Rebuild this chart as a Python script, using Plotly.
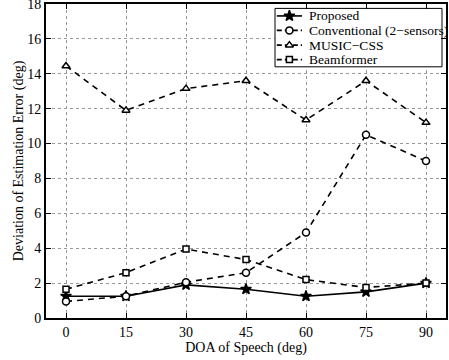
import plotly.graph_objects as go

doa = [0, 15, 30, 45, 60, 75, 90]
proposed = [1.25, 1.25, 1.9, 1.65, 1.25, 1.5, 2.0]
conventional = [0.95, 1.25, 2.05, 2.6, 4.9, 10.5, 9.0]
music_css = [14.45, 11.9, 13.15, 13.6, 11.35, 13.6, 11.2]
beamformer = [1.65, 2.6, 3.95, 3.35, 2.2, 1.75, 2.0]
x_ticks = [0, 15, 30, 45, 60, 75, 90]
y_ticks = [0, 2, 4, 6, 8, 10, 12, 14, 16, 18]
series_names = ["Proposed", "Conventional (2\u2212sensors)", "MUSIC\u2212CSS", "Beamformer"]

FONT = "Liberation Serif, Times New Roman, serif"
DASH = "6px,5px"

styles = [
    ("solid", "star", 8, "black"),
    (DASH, "circle", 7, "white"),
    (DASH, "triangle-up", 7, "white"),
    (DASH, "square", 6, "white"),
]
values = [proposed, conventional, music_css, beamformer]

fig = go.Figure()
for name, vals, (dash, sym, ms, fc) in zip(series_names, values, styles):
    fig.add_trace(go.Scatter(
        x=doa, y=vals, name=name, mode="lines+markers", showlegend=False,
        line=dict(color="black", width=1.6, dash=dash),
        marker=dict(symbol=sym, size=ms, color=fc,
                    line=dict(color="black", width=1.5)),
    ))

# Custom compact legend drawn on an overlay axis spanning [0,1] x [0,1]
leg_x0, leg_x1 = 0.5725, 0.99
leg_y0, leg_y1 = 0.80, 0.986
row_y = [0.962, 0.916, 0.869, 0.823]
line_x0, line_x1, mark_x, text_x = 0.577, 0.64, 0.6085, 0.652

fig.add_trace(go.Scatter(
    x=[leg_x0, leg_x1, leg_x1, leg_x0, leg_x0], y=[leg_y0, leg_y0, leg_y1, leg_y1, leg_y0],
    mode="lines", fill="toself", fillcolor="white",
    line=dict(color="black", width=1), xaxis="x2", yaxis="y2",
    showlegend=False, hoverinfo="skip",
))
for name, ry, (dash, sym, ms, fc) in zip(series_names, row_y, styles):
    fig.add_trace(go.Scatter(
        x=[line_x0, mark_x, line_x1], y=[ry, ry, ry], mode="lines",
        xaxis="x2", yaxis="y2", showlegend=False, hoverinfo="skip",
        line=dict(color="black", width=1.6, dash="solid" if dash == "solid" else "5px,3px"),
    ))
    fig.add_trace(go.Scatter(
        x=[mark_x], y=[ry], mode="markers",
        xaxis="x2", yaxis="y2", showlegend=False, hoverinfo="skip",
        marker=dict(symbol=sym, size=ms, color=fc,
                    line=dict(color="black", width=1.5)),
    ))
    fig.add_annotation(x=text_x, y=ry, xref="paper", yref="paper", text=name,
                       showarrow=False, xanchor="left", yanchor="middle",
                       font=dict(family=FONT, size=13.5, color="black"))

axis_common = dict(
    showline=True, linecolor="black", linewidth=2, mirror="ticks",
    ticks="inside", ticklen=5, tickcolor="black", tickwidth=1,
    showgrid=True, gridcolor="#999999", griddash="dot", gridwidth=1,
    zeroline=False, automargin=False, ticklabeloverflow="allow",
    tickfont=dict(family=FONT, size=14, color="black"),
)

fig.update_layout(
    width=449, height=360,
    margin=dict(l=46, r=3, t=4, b=42),
    paper_bgcolor="white", plot_bgcolor="white",
    font=dict(family=FONT, color="black"),
    xaxis=dict(range=[-5, 95], tickvals=x_ticks,
               title=dict(text="DOA of Speech (deg)", font=dict(family=FONT, size=14), standoff=0),
               **axis_common),
    yaxis=dict(range=[0, 18], tickvals=y_ticks,
               title=dict(text="Deviation of Estimation Error (deg)", font=dict(family=FONT, size=14), standoff=0),
               **axis_common),
    xaxis2=dict(range=[0, 1], overlaying="x", visible=False, fixedrange=True),
    yaxis2=dict(range=[0, 1], overlaying="y", visible=False, fixedrange=True),
    showlegend=False,
)

fig.write_html("out.html", config={"displayModeBar": False},
               post_script="document.body.style.margin='0px';document.body.style.overflow='hidden';")
